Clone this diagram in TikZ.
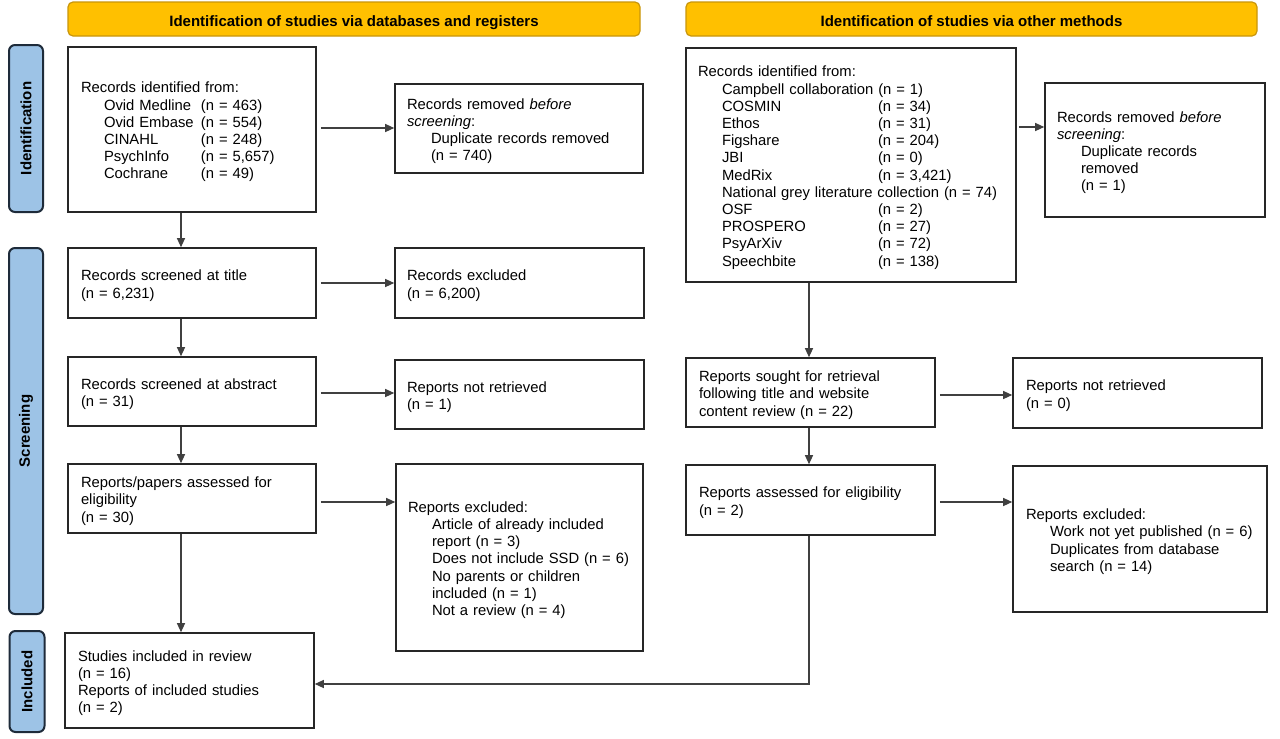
\documentclass[tikz,border=0pt]{standalone}
\usepackage{fontspec}
\setmainfont{Liberation Sans}
\usetikzlibrary{arrows.meta,calc}
\definecolor{hdrfill}{HTML}{FFC000}
\definecolor{hdrline}{HTML}{C9960C}
\definecolor{sidefill}{HTML}{9DC3E6}
\definecolor{sideline}{HTML}{1E2B3A}
\newcommand{\toppad}{\rule{0pt}{16pt}}
\begin{document}
\begin{tikzpicture}[x=1pt,y=-1pt,
  box/.style={draw=black!85, line width=1.6pt, fill=white, align=left,
    inner xsep=13pt, inner ysep=0pt, anchor=center,
    font=\fontsize{14.8}{17.2}\selectfont},
  hdr/.style={draw=hdrline, line width=1.2pt, fill=hdrfill, rounded corners=5pt,
    minimum height=34pt, anchor=center, inner sep=0pt, font=\bfseries\fontsize{15}{17}\selectfont},
  side/.style={draw=sideline, line width=2pt, fill=sidefill, rounded corners=6pt,
    rotate=90, anchor=center, inner sep=0pt, font=\bfseries\fontsize{15}{17}\selectfont},
  arr/.style={draw=black!75, line width=1.2pt, -{Triangle[length=9pt,width=8pt]}}
]
\useasboundingbox (0,0) rectangle (1280,739);
\fill[white] (0,0) rectangle (1280,739);

% headers
\node[hdr, minimum width=572pt] (h1) at (354,19) {\raisebox{-7.5pt}[0pt][0pt]{Identification of studies via databases and registers}};
\node[hdr, minimum width=571pt] (h2) at (971.5,19) {\raisebox{-7.5pt}[0pt][0pt]{Identification of studies via other methods}};

% side bars
\node[side, minimum width=167pt, minimum height=34pt] (s1) at (26,128.5) {Identification};
\node[side, minimum width=366pt, minimum height=34pt] (s2) at (26,431) {Screening};
\node[side, minimum width=101pt, minimum height=35pt] (s3) at (27,681.5) {Included};

% left column
\node[box, minimum width=248pt, minimum height=165pt, text width=222pt] (B1) at (192,129.5)
 {\toppad Records identified from:\\
  \hspace*{23pt}\makebox[97pt][l]{Ovid Medline}(n = 463)\\
  \hspace*{23pt}\makebox[97pt][l]{Ovid Embase}(n = 554)\\
  \hspace*{23pt}\makebox[97pt][l]{CINAHL}(n = 248)\\
  \hspace*{23pt}\makebox[97pt][l]{PsychInfo}(n = 5,657)\\
  \hspace*{23pt}\makebox[97pt][l]{Cochrane}(n = 49)};
\node[box, minimum width=248pt, minimum height=89pt, text width=224pt, inner xsep=12pt] (R1) at (519,128.5)
 {\toppad Records removed \textit{before}\\
  \textit{screening}:\\
  \hspace*{24pt}\mbox{Duplicate records removed}\\
  \hspace*{24pt}(n = 740)};
\node[box, minimum width=248pt, minimum height=70pt, text width=222pt] (B2) at (192,283)
 {\toppad Records screened at title\\(n = 6,231)};
\node[box, minimum width=249pt, minimum height=70pt, text width=225pt, inner xsep=12pt] (R2) at (519.5,283)
 {\toppad Records excluded\\(n = 6,200)};
\node[box, minimum width=248pt, minimum height=69pt, text width=222pt] (B3) at (192,391.5)
 {\toppad Records screened at abstract\\(n = 31)};
\node[box, minimum width=249pt, minimum height=69pt, text width=225pt, inner xsep=12pt] (R3) at (519.5,394.5)
 {\toppad Reports not retrieved\\(n = 1)};
\node[box, minimum width=248pt, minimum height=69pt, text width=222pt] (B4) at (192,498.5)
 {\toppad Reports/papers assessed for\\eligibility\\(n = 30)};
\node[box, minimum width=247pt, minimum height=187pt, text width=223pt, inner xsep=12pt] (R4) at (519.5,557.5)
 {\toppad Reports excluded:\\
  \hspace*{24pt}Article of already included\\
  \hspace*{24pt}report (n = 3)\\
  \hspace*{24pt}\mbox{Does not include SSD (n = 6)}\\
  \hspace*{24pt}No parents or children\\
  \hspace*{24pt}included (n = 1)\\
  \hspace*{24pt}Not a review (n = 4)};
\node[box, minimum width=249pt, minimum height=95pt, text width=223pt] (B5) at (189.5,680.5)
 {\toppad Studies included in review\\(n = 16)\\Reports of included studies\\(n = 2)};

% right column
\node[box, minimum width=330pt, minimum height=234pt, text width=306pt, inner xsep=12pt] (C1) at (851,165)
 {\toppad Records identified from:\\
  \hspace*{24pt}Campbell collaboration (n = 1)\\
  \hspace*{24pt}\makebox[156pt][l]{COSMIN}(n = 34)\\
  \hspace*{24pt}\makebox[156pt][l]{Ethos}(n = 31)\\
  \hspace*{24pt}\makebox[156pt][l]{Figshare}(n = 204)\\
  \hspace*{24pt}\makebox[156pt][l]{JBI}(n = 0)\\
  \hspace*{24pt}\makebox[156pt][l]{MedRix}(n = 3,421)\\
  \hspace*{24pt}\mbox{National grey literature collection (n = 74)}\\
  \hspace*{24pt}\makebox[156pt][l]{OSF}(n = 2)\\
  \hspace*{24pt}\makebox[156pt][l]{PROSPERO}(n = 27)\\
  \hspace*{24pt}\makebox[156pt][l]{PsyArXiv}(n = 72)\\
  \hspace*{24pt}\makebox[156pt][l]{Speechbite}(n = 138)};
\node[box, minimum width=220pt, minimum height=134pt, text width=196pt, inner xsep=12pt] (S1) at (1155,150)
 {\toppad Records removed \textit{before}\\
  \textit{screening}:\\
  \hspace*{24pt}Duplicate records\\
  \hspace*{24pt}removed\\
  \hspace*{24pt}(n = 1)};
\node[box, minimum width=249pt, minimum height=69pt, text width=223pt] (C2) at (810.5,392.5)
 {\toppad Reports sought for retrieval\\following title and website\\content review (n = 22)};
\node[box, minimum width=249pt, minimum height=70pt, text width=223pt] (S2) at (1137.5,393)
 {\toppad Reports not retrieved\\(n = 0)};
\node[box, minimum width=249pt, minimum height=70pt, text width=223pt] (C3) at (810.5,500)
 {\toppad\mbox{Reports assessed for eligibility}\\(n = 2)};
\node[box, minimum width=254pt, minimum height=146pt, text width=228pt] (S3) at (1140,539)
 {\toppad Reports excluded:\\
  \hspace*{24pt}\mbox{Work not yet published (n = 6)}\\
  \hspace*{24pt}Duplicates from database\\
  \hspace*{24pt}search (n = 14)};

% guide coordinates for vertical connectors
\coordinate (lx) at (181,0);
\coordinate (rx) at (809,0);

% left vertical arrows
\draw[arr] (B1.south -| lx) -- (B2.north -| lx);
\draw[arr] (B2.south -| lx) -- (B3.north -| lx);
\draw[arr] (B3.south -| lx) -- (B4.north -| lx);
\draw[arr] (B4.south -| lx) -- (B5.north -| lx);

% left horizontal arrows
\draw[arr, shorten <=4pt] ([yshift=1.5pt]B1.east) -- ([yshift=1.5pt]B1.east -| R1.west);
\draw[arr, shorten <=4pt] (B2.east) -- (B2.east -| R2.west);
\draw[arr, shorten <=4pt] ([yshift=-1.5pt]B3.east) -- ([yshift=-1.5pt]B3.east -| R3.west);
\draw[arr, shorten <=4pt] ([yshift=-3.5pt]B4.east) -- ([yshift=-3.5pt]B4.east -| R4.west);

% right vertical arrows
\draw[arr] (C1.south -| rx) -- (C2.north -| rx);
\draw[arr] (C2.south -| rx) -- (C3.north -| rx);
\draw[arr] (C3.south -| rx) |- ([yshift=-3.5pt]B5.east);

% right horizontal arrows
\draw[arr, shorten <=2pt] ([yshift=38pt]C1.east) -- ([yshift=38pt]C1.east -| S1.west);
\draw[arr, shorten <=4pt] ([yshift=-2.5pt]C2.east) -- ([yshift=-2.5pt]C2.east -| S2.west);
\draw[arr, shorten <=4pt] ([yshift=-2pt]C3.east) -- ([yshift=-2pt]C3.east -| S3.west);
\end{tikzpicture}
\end{document}
